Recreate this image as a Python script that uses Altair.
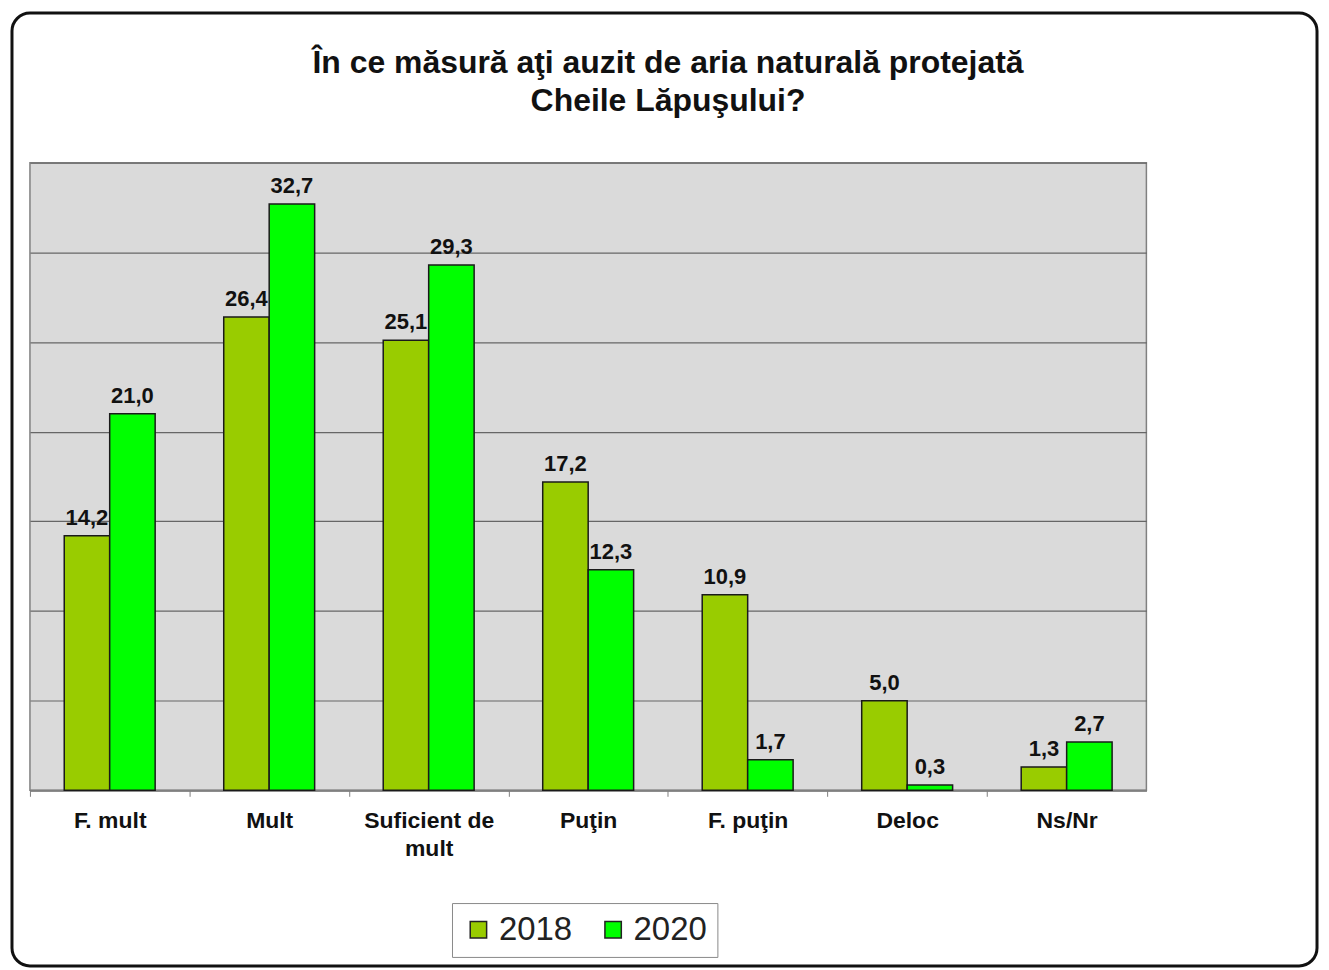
import altair as alt
import pandas as pd

categories = ["F. mult", "Mult", "Suficient de mult", "Puţin", "F. puţin", "Deloc", "Ns/Nr"]
years = ["2018", "2020"]
values_2018 = [14.2, 26.4, 25.1, 17.2, 10.9, 5.0, 1.3]
values_2020 = [21.0, 32.7, 29.3, 12.3, 1.7, 0.3, 2.7]
colors = ["#99CC00", "#00FF00"]
title_lines = ["În ce măsură aţi auzit de aria naturală protejată", "Cheile Lăpuşului?"]

rows = []
for c, a, b in zip(categories, values_2018, values_2020):
    rows.append({"cat": c, "year": years[0], "value": a})
    rows.append({"cat": c, "year": years[1], "value": b})
df = pd.DataFrame(rows)

FONT = "Liberation Sans"

x_enc = alt.X(
    "cat:N",
    sort=categories,
    title=None,
    scale=alt.Scale(paddingInner=0.43, paddingOuter=0.215),
    axis=alt.Axis(
        labelAngle=0,
        labelFont=FONT,
        labelFontSize=23,
        labelFontWeight="bold",
        labelColor="#111111",
        labelPadding=13,
        labelLineHeight=28,
        labelExpr="datum.label == 'Suficient de mult' ? ['Suficient de', 'mult'] : datum.label",
        domainColor="#808080",
        domainWidth=2,
        tickColor="#808080",
        tickSize=6,
        tickOffset=-79.93,
        labelOffset=79.93,
        grid=False,
    ),
)
y_enc = alt.Y(
    "value:Q",
    title=None,
    scale=alt.Scale(domain=[0, 35], nice=False),
    axis=alt.Axis(
        labels=False,
        ticks=False,
        domain=False,
        grid=True,
        gridColor="#666666",
        gridWidth=1.2,
        values=[0, 5, 10, 15, 20, 25, 30, 35],
    ),
)

base = alt.Chart(df)

frame = alt.Chart(pd.DataFrame({"a": [0]})).mark_rect(
    fill="transparent", stroke="#111111", strokeWidth=3, cornerRadius=18, clip=False
).encode(
    x=alt.value(-18), x2=alt.value(1290), y=alt.value(-150), y2=alt.value(805)
)

bars = base.mark_bar(stroke="#1a1a1a", strokeWidth=1.5).encode(
    x=x_enc,
    xOffset=alt.XOffset("year:N", sort=years),
    y=y_enc,
    color=alt.Color(
        "year:N",
        sort=years,
        scale=alt.Scale(domain=years, range=colors),
        legend=alt.Legend(
            title=None,
            orient="none",
            legendX=423,
            legendY=742,
            direction="horizontal",
            fillColor="white",
            strokeColor="#8a8a8a",
            padding=10,
            labelFont=FONT,
            labelFontSize=33,
            labelColor="#222222",
            symbolType="square",
            symbolSize=270,
            symbolStrokeColor="#222222",
            symbolStrokeWidth=1.5,
            symbolOpacity=1,
            columnPadding=24,
            labelOffset=4,
        ),
    ),
)

labels = base.transform_calculate(
    label="replace(format(datum.value, '.1f'), '.', ',')"
).mark_text(
    font=FONT, fontSize=22, fontWeight="bold", color="#111111", baseline="bottom", dy=-6
).encode(
    x=alt.X("cat:N", sort=categories),
    xOffset=alt.XOffset("year:N", sort=years),
    y="value:Q",
    text="label:N",
)

chart = alt.layer(frame, bars, labels).properties(
    width=1119,
    height=629,
    background="white",
    padding={"left": 2, "top": 2, "right": 2, "bottom": 2},
    title=alt.TitleParams(
        text=title_lines,
        font=FONT,
        fontSize=32,
        fontWeight="bold",
        color="#111111",
        anchor="middle",
        dx=80,
        offset=-107,
        lineHeight=38,
    ),
).configure_view(
    fill="#dadada", stroke="#808080", strokeWidth=1.5
)

chart.save("out.html", embed_options={"renderer": "svg", "actions": False})
